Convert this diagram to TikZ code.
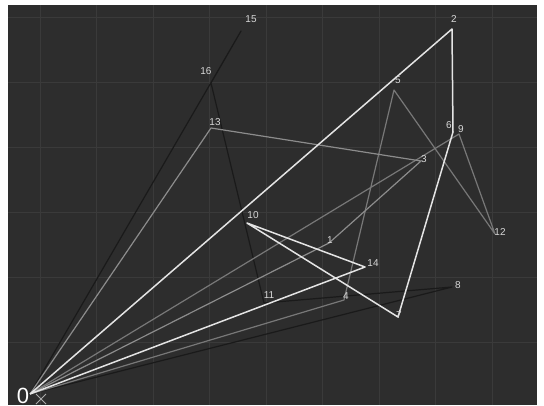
\documentclass[tikz,border=0pt]{standalone}
\usepackage{fontspec}
\setmainfont{Liberation Sans}
\begin{document}
\begin{tikzpicture}[x=1pt, y=-1pt]
	% Define custom colors
	\definecolor{canvas}{RGB}{45, 45, 45}
	\definecolor{gridline}{RGB}{58, 58, 58}
	\definecolor{routewhite}{RGB}{228, 228, 228}
	\definecolor{routedark}{RGB}{26, 26, 26}
	\definecolor{routegray}{RGB}{140, 140, 140}
	\definecolor{routedim}{RGB}{120, 120, 120}
	\definecolor{labeltext}{RGB}{215, 215, 215}
	\definecolor{depotmark}{RGB}{170, 170, 170}
	\tikzset{
		stop/.style={text=labeltext, font=\fontsize{10}{10}\selectfont, inner sep=0pt},
		route/.style={line width=1.2pt, line join=round},
	}
	\useasboundingbox (0,0) rectangle (544,405);
	\fill[white] (0,0) rectangle (544,405);
	\fill[canvas] (8,5) rectangle (537,405);
	% grid
	\foreach \gx in {40, 96.5, 153, 209.5, 266, 322.5, 379, 435.5, 492}
		\draw[gridline, line width=0.8pt] (\gx,5) -- (\gx,405);
	\foreach \gy in {17, 82, 147, 212, 277, 342}
		\draw[gridline, line width=0.8pt] (8,\gy) -- (537,\gy);
	% stops
	\coordinate (p0) at (30, 394);
	\coordinate (p1) at (329, 243);
	\coordinate (p2) at (452, 29);
	\coordinate (p3) at (421, 161);
	\coordinate (p4) at (344, 300);
	\coordinate (p5) at (394, 90);
	\coordinate (p6) at (453, 132);
	\coordinate (p7) at (398, 317);
	\coordinate (p8) at (452, 287);
	\coordinate (p9) at (459, 134);
	\coordinate (p10) at (247, 223);
	\coordinate (p11) at (264, 303);
	\coordinate (p12) at (495, 234);
	\coordinate (p13) at (211, 128);
	\coordinate (p14) at (365, 267);
	\coordinate (p15) at (241, 31);
	\coordinate (p16) at (211, 83);
	% routes
	\draw[route, routedark] (p0) -- (p15) -- (p16) -- (p11) -- (p8) -- (p0);
	\draw[route, routedim] (p0) -- (p4) -- (p5) -- (p12) -- (p9) -- (p0);
	\draw[route, routegray] (p0) -- (p13) -- (p3) -- (p1) -- (p0);
	\draw[route, routewhite, line width=1.5pt] (p0) -- (p2) -- (p6) -- (p7) -- (p10) -- (p14) -- (p0);
	% labels
	\node[stop] (l1) at (330, 240) {1};
	\node[stop] (l2) at (454, 19) {2};
	\node[stop] (l3) at (424, 159) {3};
	\node[stop] (l4) at (346, 296) {4};
	\node[stop] (l5) at (398, 80) {5};
	\node[stop] (l6) at (449, 125) {6};
	\node[stop] (l7) at (399, 315) {7};
	\node[stop] (l8) at (458, 285) {8};
	\node[stop] (l9) at (461, 129) {9};
	\node[stop] (l10) at (253, 215) {10};
	\node[stop] (l11) at (269, 295) {11};
	\node[stop] (l12) at (500, 232) {12};
	\node[stop] (l13) at (215, 122) {13};
	\node[stop] (l14) at (373, 263) {14};
	\node[stop] (l15) at (251, 19) {15};
	\node[stop] (l16) at (206, 71) {16};
	% depot
	\node[text=white, font=\fontsize{22}{22}\selectfont, inner sep=0pt] (l0) at (23, 396) {0};
	\draw[depotmark, line width=0.9pt] (36, 394) -- (46, 404) (46, 394) -- (36, 404);
\end{tikzpicture}
\end{document}
